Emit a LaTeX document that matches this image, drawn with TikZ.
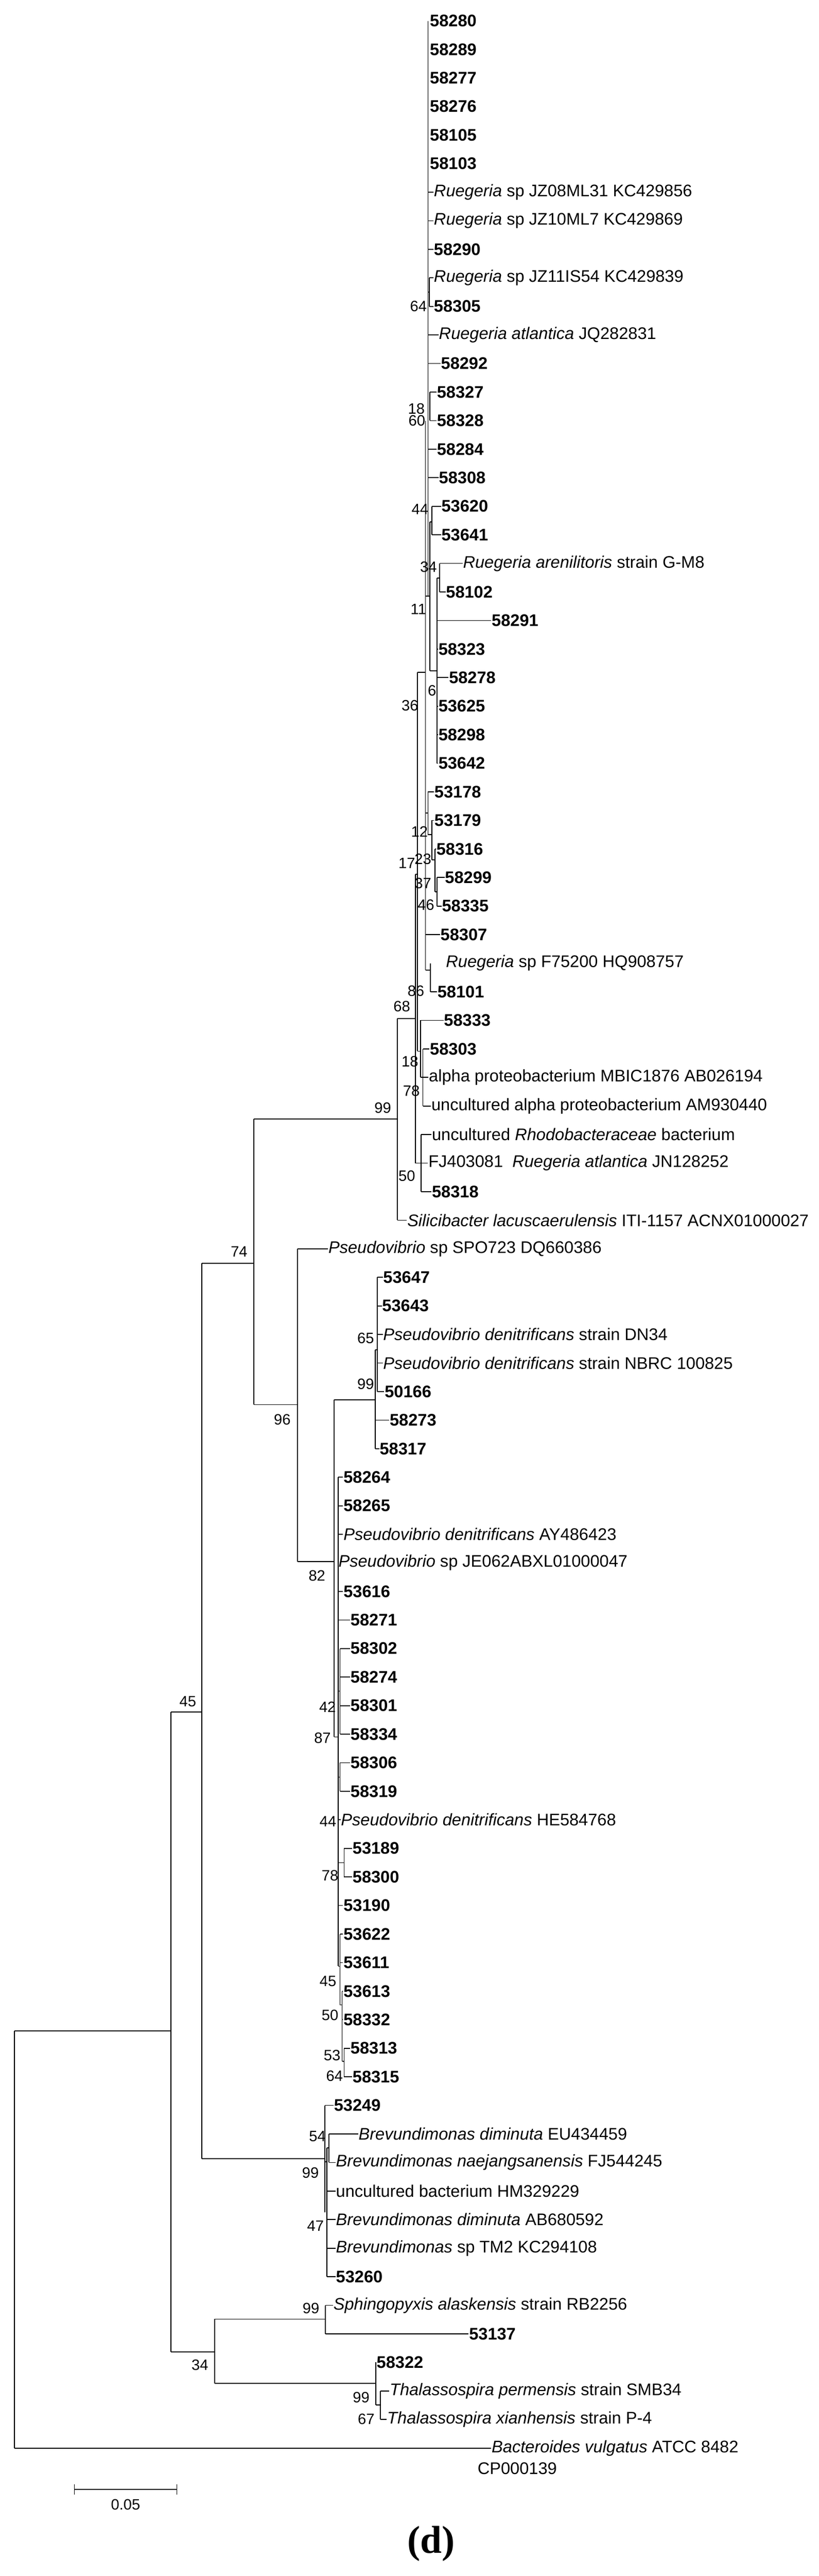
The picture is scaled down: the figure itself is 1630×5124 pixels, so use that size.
\documentclass[tikz,border=0pt]{standalone}
\usepackage{fontspec}
\setmainfont{Liberation Sans}
\newfontfamily\capfont{Liberation Serif}
\tikzset{leaf/.style={anchor=west,inner sep=0pt,font=\fontsize{9.5}{11}\selectfont},
  boot/.style={inner sep=0pt,font=\fontsize{8.5}{10}\selectfont},
  br/.style={line width=0.5pt}}
\begin{document}
\begin{tikzpicture}[x=0.1mm,y=-0.1mm,br]
\useasboundingbox (0,0) rectangle (1630,5124);
% rows
\foreach \i in {1,...,86} \coordinate (r\i) at (0,{41.5+(\i-1)*56.8});
% leaf labels
\foreach \i/\x/\t in {1/855/\textbf{58280},2/855/\textbf{58289},3/855/\textbf{58277},4/855/\textbf{58276},
 5/855/\textbf{58105},6/855/\textbf{58103},7/863/\textit{Ruegeria} sp JZ08ML31 KC429856,
 8/863/\textit{Ruegeria} sp JZ10ML7 KC429869,9/863/\textbf{58290},10/863/\textit{Ruegeria} sp JZ11IS54 KC429839,
 11/863/\textbf{58305},12/873/\textit{Ruegeria atlantica} JQ282831,13/877/\textbf{58292},14/869/\textbf{58327},
 15/869/\textbf{58328},16/869/\textbf{58284},17/873/\textbf{58308},18/878/\textbf{53620},19/878/\textbf{53641},
 20/921/\textit{Ruegeria arenilitoris} strain G-M8,21/887/\textbf{58102},22/978/\textbf{58291},23/872/\textbf{58323},
 24/893/\textbf{58278},25/872/\textbf{53625},26/872/\textbf{58298},27/872/\textbf{53642},28/864/\textbf{53178},
 29/864/\textbf{53179},30/868/\textbf{58316},31/885/\textbf{58299},32/879/\textbf{58335},33/876/\textbf{58307},
 34/887/\textit{Ruegeria} sp F75200 HQ908757,35/870/\textbf{58101},36/883/\textbf{58333},37/855/\textbf{58303},
 38/853/alpha proteobacterium MBIC1876 AB026194,39/858/uncultured alpha proteobacterium AM930440,
 40/859/uncultured \textit{Rhodobacteraceae} bacterium,41/852/FJ403081\ \ \textit{Ruegeria atlantica} JN128252,
 42/859/\textbf{58318},43/810/\textit{Silicibacter lacuscaerulensis} ITI-1157 ACNX01000027,
 44/653/\textit{Pseudovibrio} sp SPO723 DQ660386,45/762/\textbf{53647},46/760/\textbf{53643},
 47/762/\textit{Pseudovibrio denitrificans} strain DN34,48/762/\textit{Pseudovibrio denitrificans} strain NBRC 100825,
 49/765/\textbf{50166},50/775/\textbf{58273},51/755/\textbf{58317},52/683/\textbf{58264},53/683/\textbf{58265},
 54/683/\textit{Pseudovibrio denitrificans} AY486423,55/673/\textit{Pseudovibrio} sp JE062ABXL01000047,
 56/683/\textbf{53616},57/697/\textbf{58271},58/697/\textbf{58302},59/697/\textbf{58274},60/697/\textbf{58301},
 61/697/\textbf{58334},62/697/\textbf{58306},63/697/\textbf{58319},64/678/\textit{Pseudovibrio denitrificans} HE584768,
 65/701/\textbf{53189},66/701/\textbf{58300},67/683/\textbf{53190},68/683/\textbf{53622},69/683/\textbf{53611},
 70/683/\textbf{53613},71/683/\textbf{58332},72/697/\textbf{58313},73/701/\textbf{58315},74/664/\textbf{53249},
 75/713/\textit{Brevundimonas diminuta} EU434459,76/668/\textit{Brevundimonas naejangsanensis} FJ544245,
 77/668/uncultured bacterium HM329229,78/668/\textit{Brevundimonas diminuta} AB680592,
 79/668/\textit{Brevundimonas} sp TM2 KC294108,80/668/\textbf{53260},
 81/663/\textit{Sphingopyxis alaskensis} strain RB2256,82/933/\textbf{53137},83/749/\textbf{58322},
 84/775/\textit{Thalassospira permensis} strain SMB34,85/770/\textit{Thalassospira xianhensis} strain P-4,
 86/978/\textit{Bacteroides vulgatus} ATCC 8482}
  \node[leaf] (L\i) at (\x,0 |- r\i) {\t};
\node[leaf] (L86b) at (950,4910) {CP000139};
% leaf stubs
\foreach \i/\a in {7/852,8/852,9/852,10/855,11/855,12/852,13/852,14/856,15/856,16/852,17/852,18/860,19/860,
 20/875,21/875,22/870,23/870,24/870,25/870,26/870,27/870,28/852,29/860,30/866,31/870,32/870,33/847,35/857,
 36/837,37/842,38/842,39/842,40/838,41/838,42/838,43/791,44/592,45/751,46/751,47/751,48/751,49/751,50/747,
 51/747,52/673,53/673,54/673,56/673,57/673,58/677,59/677,60/677,61/677,62/677,63/677,64/673,65/685,66/685,
 67/673,68/677,69/677,70/681,71/681,72/685,73/685,74/647,75/655,76/655,77/651,78/651,79/651,80/651,
 81/648,82/648,83/748,84/757,85/757,86/29}
  \draw (\a,0 |- r\i) -- (L\i.west);
% root and deep nodes
\draw (29,4040) -- (340,4040) (29,4040) -- (29,0 |- r86);
\draw (340,3405) -- (340,4678) (340,3405) -- (402,3405) (340,4678) -- (427,4678);
\draw (402,2513) -- (402,4294) (402,2513) -- (505,2513) (402,4294) -- (647,4294);
\draw (505,2226) -- (505,2794) (505,2226) -- (791,2226) (505,2794) -- (592,2794);
\draw (592,0 |- r44) -- (592,3106) (592,3106) -- (665,3106);
% Pseudovibrio
\draw (665,2784) -- (665,3455) (665,2784) -- (747,2784) (665,3455) -- (673,3455);
\draw (747,2685) -- (747,0 |- r51) (747,2685) -- (751,2685) (751,0 |- r45) -- (751,0 |- r49);
\draw (673,0 |- r52) -- (673,3911);
\draw (673,3364) -- (677,3364) (677,0 |- r58) -- (677,0 |- r61);
\draw (673,3535) -- (677,3535) (677,0 |- r62) -- (677,0 |- r63);
\draw (673,3705) -- (685,3705) (685,0 |- r65) -- (685,0 |- r66);
\draw (673,3911) -- (677,3911) (677,0 |- r68) -- (677,3988) (677,3988) -- (681,3988);
\draw (681,0 |- r70) -- (681,4100) (681,4100) -- (685,4100) (685,0 |- r72) -- (685,0 |- r73);
% Brevundimonas
\draw (647,0 |- r74) -- (647,4400) (647,4300) -- (651,4300) (651,4272) -- (651,0 |- r80);
\draw (651,4272) -- (655,4272) (655,0 |- r75) -- (655,0 |- r76);
% Sphingopyxis / Thalassospira
\draw (427,4613) -- (427,4741) (427,4613) -- (648,4613) (648,0 |- r81) -- (648,0 |- r82);
\draw (427,4741) -- (748,4741) (748,0 |- r83) -- (748,4784) (748,4784) -- (757,4784) (757,0 |- r84) -- (757,0 |- r85);
% Ruegeria
\draw (791,2026) -- (791,0 |- r43) (791,2026) -- (827,2026);
\draw (827,1739) -- (827,0 |- r41) (827,0 |- r41) -- (838,0 |- r41) (838,0 |- r40) -- (838,0 |- r42);
\draw (827,1739) -- (831,1739) (831,1337) -- (831,2091) (831,2091) -- (837,2091);
\draw (837,0 |- r36) -- (837,2143) (837,2143) -- (842,2143) (842,0 |- r37) -- (842,0 |- r39);
\draw (831,1337) -- (847,1337) (847,837) -- (847,1930);
\draw (852,0 |- r1) -- (852,1186) (847,1186) -- (856,1186);
\draw (852,581) -- (855,581) (855,0 |- r10) -- (855,0 |- r11);
\draw (856,0 |- r14) -- (856,0 |- r15);
\draw (856,1038) -- (856,1334) (856,1038) -- (860,1038) (860,0 |- r18) -- (860,0 |- r19);
\draw (856,1334) -- (870,1334) (870,1150) -- (870,0 |- r27) (870,1150) -- (875,1150) (875,0 |- r20) -- (875,0 |- r21);
\draw (847,1617) -- (852,1617) (852,0 |- r28) -- (852,1660) (852,1660) -- (860,1660);
\draw (860,0 |- r29) -- (860,1710) (860,1710) -- (866,1710) (866,0 |- r30) -- (866,1774);
\draw (866,1774) -- (870,1774) (870,0 |- r31) -- (870,0 |- r32);
\draw (847,1930) -- (857,1930) (857,0 |- r34) -- (857,0 |- r35);
% bootstrap values
\foreach \x/\y/\v in {833/609/64,829/813/18,830/837/60,836/1013/44,853/1128/34,833/1212/11,860/1374/6,
 816/1403/36,835/1654/12,810/1717/17,842/1709/23,842/1757/37,848/1800/46,828/1971/86,800/2002/68,
 816/2112/18,819/2170/78,762/2204/99,810/2339/50,476/2490/74,562/2824/96,728/2662/65,728/2753/99,
 631/3134/82,652/3395/42,642/3457/87,374/3384/45,653/3623/44,657/3731/78,653/3941/45,657/4008/50,
 661/4088/53,666/4129/64,632/4249/54,618/4322/99,628/4428/47,619/4592/99,398/4704/34,719/4769/99,729/4812/67}
  \node[boot] at (\x,\y) {\v};
% scale bar
\draw (148,4952) -- (352,4952) (148,4942) -- (148,4962) (352,4942) -- (352,4962);
\node[boot] (sc) at (250,4982) {0.05};
\node[font=\capfont\fontsize{22}{24}\selectfont\bfseries] (cap) at (858,5060) {(d)};
\end{tikzpicture}
\end{document}
